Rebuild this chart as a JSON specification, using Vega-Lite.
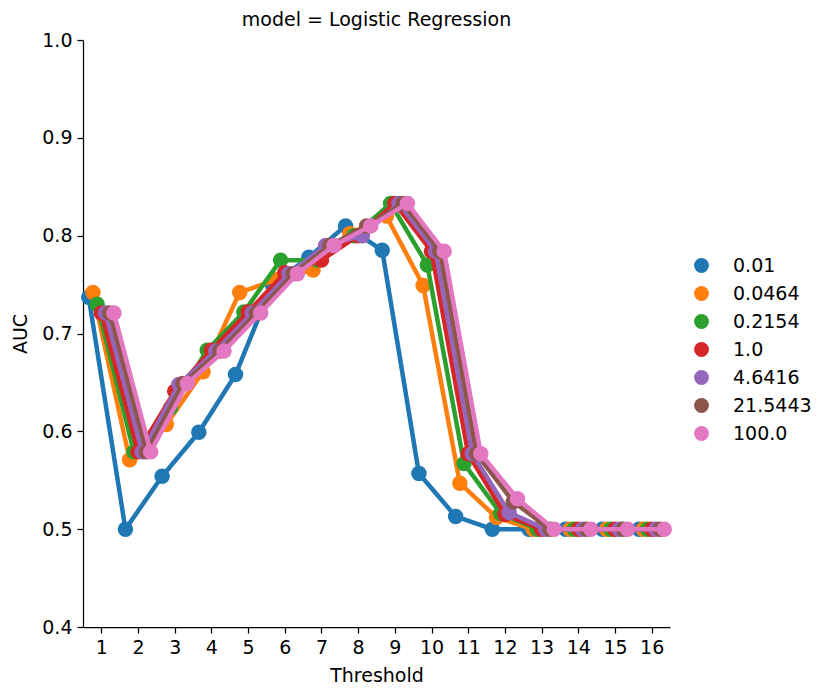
{
  "$schema": "https://vega.github.io/schema/vega-lite/v6.json",
  "autosize": "none",
  "padding": {"left": 83, "top": 40, "right": 160, "bottom": 71},
  "width": 587,
  "height": 587,
  "background": "white",
  "config": {
    "font": "DejaVu Sans",
    "view": {"stroke": null},
    "axis": {"grid": false, "labelFontSize": 19, "titleFontSize": 19, "labelColor": "black", "titleColor": "black", "titleFontWeight": "normal", "domainColor": "black", "tickColor": "black", "domainWidth": 1.25, "tickWidth": 1.25, "tickSize": 6, "labelPadding": 5}
  },
  "title": {"text": "model = Logistic Regression", "fontSize": 19, "fontWeight": "normal", "color": "black", "anchor": "middle", "frame": "group", "offset": 1},
  "data": {"values": [
    {"T":1,"C":"0.01","AUC":0.737},{"T":2,"C":"0.01","AUC":0.5},{"T":3,"C":"0.01","AUC":0.554},{"T":4,"C":"0.01","AUC":0.599},{"T":5,"C":"0.01","AUC":0.658},{"T":6,"C":"0.01","AUC":0.75},{"T":7,"C":"0.01","AUC":0.778},{"T":8,"C":"0.01","AUC":0.81},{"T":9,"C":"0.01","AUC":0.785},{"T":10,"C":"0.01","AUC":0.557},{"T":11,"C":"0.01","AUC":0.513},{"T":12,"C":"0.01","AUC":0.5},{"T":13,"C":"0.01","AUC":0.5},{"T":14,"C":"0.01","AUC":0.5},{"T":15,"C":"0.01","AUC":0.5},{"T":16,"C":"0.01","AUC":0.5},
    {"T":1,"C":"0.0464","AUC":0.742},{"T":2,"C":"0.0464","AUC":0.571},{"T":3,"C":"0.0464","AUC":0.607},{"T":4,"C":"0.0464","AUC":0.661},{"T":5,"C":"0.0464","AUC":0.742},{"T":6,"C":"0.0464","AUC":0.755},{"T":7,"C":"0.0464","AUC":0.765},{"T":8,"C":"0.0464","AUC":0.802},{"T":9,"C":"0.0464","AUC":0.82},{"T":10,"C":"0.0464","AUC":0.749},{"T":11,"C":"0.0464","AUC":0.547},{"T":12,"C":"0.0464","AUC":0.512},{"T":13,"C":"0.0464","AUC":0.5},{"T":14,"C":"0.0464","AUC":0.5},{"T":15,"C":"0.0464","AUC":0.5},{"T":16,"C":"0.0464","AUC":0.5},
    {"T":1,"C":"0.2154","AUC":0.73},{"T":2,"C":"0.2154","AUC":0.579},{"T":3,"C":"0.2154","AUC":0.624},{"T":4,"C":"0.2154","AUC":0.683},{"T":5,"C":"0.2154","AUC":0.722},{"T":6,"C":"0.2154","AUC":0.775},{"T":7,"C":"0.2154","AUC":0.775},{"T":8,"C":"0.2154","AUC":0.8},{"T":9,"C":"0.2154","AUC":0.833},{"T":10,"C":"0.2154","AUC":0.77},{"T":11,"C":"0.2154","AUC":0.567},{"T":12,"C":"0.2154","AUC":0.516},{"T":13,"C":"0.2154","AUC":0.5},{"T":14,"C":"0.2154","AUC":0.5},{"T":15,"C":"0.2154","AUC":0.5},{"T":16,"C":"0.2154","AUC":0.5},
    {"T":1,"C":"1.0","AUC":0.721},{"T":2,"C":"1.0","AUC":0.579},{"T":3,"C":"1.0","AUC":0.641},{"T":4,"C":"1.0","AUC":0.683},{"T":5,"C":"1.0","AUC":0.722},{"T":6,"C":"1.0","AUC":0.762},{"T":7,"C":"1.0","AUC":0.775},{"T":8,"C":"1.0","AUC":0.8},{"T":9,"C":"1.0","AUC":0.833},{"T":10,"C":"1.0","AUC":0.784},{"T":11,"C":"1.0","AUC":0.577},{"T":12,"C":"1.0","AUC":0.515},{"T":13,"C":"1.0","AUC":0.5},{"T":14,"C":"1.0","AUC":0.5},{"T":15,"C":"1.0","AUC":0.5},{"T":16,"C":"1.0","AUC":0.5},
    {"T":1,"C":"4.6416","AUC":0.721},{"T":2,"C":"4.6416","AUC":0.579},{"T":3,"C":"4.6416","AUC":0.648},{"T":4,"C":"4.6416","AUC":0.682},{"T":5,"C":"4.6416","AUC":0.721},{"T":6,"C":"4.6416","AUC":0.761},{"T":7,"C":"4.6416","AUC":0.79},{"T":8,"C":"4.6416","AUC":0.8},{"T":9,"C":"4.6416","AUC":0.833},{"T":10,"C":"4.6416","AUC":0.784},{"T":11,"C":"4.6416","AUC":0.577},{"T":12,"C":"4.6416","AUC":0.517},{"T":13,"C":"4.6416","AUC":0.5},{"T":14,"C":"4.6416","AUC":0.5},{"T":15,"C":"4.6416","AUC":0.5},{"T":16,"C":"4.6416","AUC":0.5},
    {"T":1,"C":"21.5443","AUC":0.721},{"T":2,"C":"21.5443","AUC":0.579},{"T":3,"C":"21.5443","AUC":0.649},{"T":4,"C":"21.5443","AUC":0.682},{"T":5,"C":"21.5443","AUC":0.721},{"T":6,"C":"21.5443","AUC":0.761},{"T":7,"C":"21.5443","AUC":0.79},{"T":8,"C":"21.5443","AUC":0.81},{"T":9,"C":"21.5443","AUC":0.833},{"T":10,"C":"21.5443","AUC":0.784},{"T":11,"C":"21.5443","AUC":0.577},{"T":12,"C":"21.5443","AUC":0.528},{"T":13,"C":"21.5443","AUC":0.5},{"T":14,"C":"21.5443","AUC":0.5},{"T":15,"C":"21.5443","AUC":0.5},{"T":16,"C":"21.5443","AUC":0.5},
    {"T":1,"C":"100.0","AUC":0.721},{"T":2,"C":"100.0","AUC":0.579},{"T":3,"C":"100.0","AUC":0.649},{"T":4,"C":"100.0","AUC":0.682},{"T":5,"C":"100.0","AUC":0.721},{"T":6,"C":"100.0","AUC":0.761},{"T":7,"C":"100.0","AUC":0.79},{"T":8,"C":"100.0","AUC":0.81},{"T":9,"C":"100.0","AUC":0.833},{"T":10,"C":"100.0","AUC":0.784},{"T":11,"C":"100.0","AUC":0.577},{"T":12,"C":"100.0","AUC":0.531},{"T":13,"C":"100.0","AUC":0.5},{"T":14,"C":"100.0","AUC":0.5},{"T":15,"C":"100.0","AUC":0.5},{"T":16,"C":"100.0","AUC":0.5}
  ]},
  "encoding": {
    "x": {"field": "T", "type": "ordinal", "title": "Threshold", "scale": {"type": "point", "padding": 0.5}, "axis": {"labelAngle": 0, "titlePadding": 9}},
    "xOffset": {"field": "C", "type": "nominal", "scale": {"type": "point", "domain": ["0.01","0.0464","0.2154","1.0","4.6416","21.5443","100.0"], "range": [-14.7, 14.7]}},
    "y": {"field": "AUC", "type": "quantitative", "title": "AUC", "scale": {"domain": [0.4, 1.0], "zero": false, "nice": false}, "axis": {"values": [0.4,0.5,0.6,0.7,0.8,0.9,1.0], "format": ".1f", "titlePadding": 11}},
    "color": {"field": "C", "type": "nominal", "title": null,
      "scale": {"domain": ["0.01","0.0464","0.2154","1.0","4.6416","21.5443","100.0"], "range": ["#1f77b4","#ff7f0e","#2ca02c","#d62728","#9467bd","#8c564b","#e377c2"]},
      "legend": {"orient": "none", "legendX": 609, "legendY": 216, "symbolType": "circle", "symbolSize": 220, "labelFontSize": 19, "labelColor": "black", "labelOffset": 22, "rowPadding": 8, "padding": 0,
        "encode": {"symbols": {"update": {"fill": {"scale": "color", "field": "value"}, "stroke": {"scale": "color", "field": "value"}, "strokeWidth": {"value": 0}, "opacity": {"value": 1}}}}}}
  },
  "layer": [
    {"transform": [{"filter": {"field": "C", "equal": "0.01"}}], "layer": [{"mark": {"type": "line", "strokeWidth": 4.5}, "encoding": {}}, {"mark": {"type": "point", "filled": true, "size": 240, "opacity": 1}}]},
    {"transform": [{"filter": {"field": "C", "equal": "0.0464"}}], "layer": [{"mark": {"type": "line", "strokeWidth": 4.5}, "encoding": {}}, {"mark": {"type": "point", "filled": true, "size": 240, "opacity": 1}}]},
    {"transform": [{"filter": {"field": "C", "equal": "0.2154"}}], "layer": [{"mark": {"type": "line", "strokeWidth": 4.5}, "encoding": {}}, {"mark": {"type": "point", "filled": true, "size": 240, "opacity": 1}}]},
    {"transform": [{"filter": {"field": "C", "equal": "1.0"}}], "layer": [{"mark": {"type": "line", "strokeWidth": 4.5}, "encoding": {}}, {"mark": {"type": "point", "filled": true, "size": 240, "opacity": 1}}]},
    {"transform": [{"filter": {"field": "C", "equal": "4.6416"}}], "layer": [{"mark": {"type": "line", "strokeWidth": 4.5}, "encoding": {}}, {"mark": {"type": "point", "filled": true, "size": 240, "opacity": 1}}]},
    {"transform": [{"filter": {"field": "C", "equal": "21.5443"}}], "layer": [{"mark": {"type": "line", "strokeWidth": 4.5}, "encoding": {}}, {"mark": {"type": "point", "filled": true, "size": 240, "opacity": 1}}]},
    {"transform": [{"filter": {"field": "C", "equal": "100.0"}}], "layer": [{"mark": {"type": "line", "strokeWidth": 4.5}, "encoding": {}}, {"mark": {"type": "point", "filled": true, "size": 240, "opacity": 1}}]}
  ]
}
